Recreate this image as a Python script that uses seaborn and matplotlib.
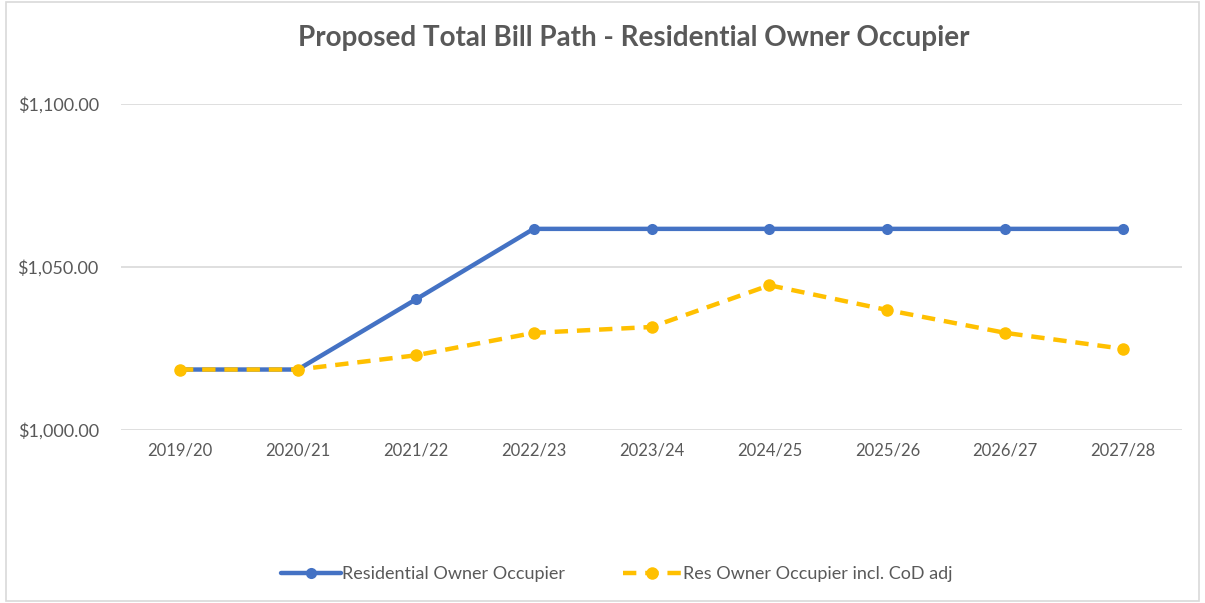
import pandas as pd
import matplotlib.pyplot as plt
import seaborn as sns
from matplotlib.patches import Rectangle

# Data
years = ['2019/20', '2020/21', '2021/22', '2022/23', '2023/24',
         '2024/25', '2025/26', '2026/27', '2027/28']
owner_occupier = [1018.55, 1018.55, 1040.04, 1061.7, 1061.7,
                  1061.7, 1061.7, 1061.7, 1061.7]
owner_occupier_cod = [1018.55, 1018.55, 1022.9, 1029.8, 1031.6,
                      1044.4, 1036.8, 1029.8, 1024.9]
series_names = ['Residential Owner Occupier', 'Res Owner Occupier incl. CoD adj']

BLUE = '#4472C4'
GOLD = '#FFC000'
GREY = '#595959'

sns.set_style('white')
plt.rcParams['font.family'] = ['Lato', 'DejaVu Sans']

df = pd.DataFrame({'year': years, 'a': owner_occupier, 'b': owner_occupier_cod})

fig = plt.figure(figsize=(12.05, 6.03), dpi=100)
ax = fig.add_axes([0.1004, 0.2869, 0.8806, 0.5406])

sns.lineplot(data=df, x='year', y='a', ax=ax, color=BLUE, linewidth=3.2,
             marker='o', markersize=8, markeredgewidth=0, sort=False,
             label=series_names[0], zorder=3)
sns.lineplot(data=df, x='year', y='b', ax=ax, color=GOLD, linewidth=3.2,
             linestyle=(0, (3, 2)), marker='o', markersize=9, markeredgewidth=0,
             sort=False, label=series_names[1], zorder=4)

ax.set_xlim(-0.5, len(years) - 0.5)
ax.set_ylim(1000, 1100)
ax.set_yticks([1000, 1050, 1100])
ax.set_yticklabels([f'${v:,.2f}' for v in [1000, 1050, 1100]])
ax.set_xlabel('')
ax.set_ylabel('')
ax.yaxis.grid(True, color='#D9D9D9', linewidth=1.2)
ax.xaxis.grid(False)
ax.set_axisbelow(True)
for s in ax.spines.values():
    s.set_visible(False)
ax.tick_params(axis='both', length=0, labelcolor=GREY)
ax.tick_params(axis='x', labelsize=12, pad=9)
ax.tick_params(axis='y', labelsize=13, pad=16)

ax.legend(loc='center', bbox_to_anchor=(0.512, 0.048), bbox_transform=fig.transFigure,
          ncol=2, frameon=False, fontsize=13, labelcolor=GREY,
          handlelength=3.3, columnspacing=3.2, handletextpad=0.05)

fig.text(0.526, 0.937, 'Proposed Total Bill Path - Residential Owner Occupier',
         ha='center', va='center', fontsize=20, fontweight='bold', color=GREY)

fig.patches.append(Rectangle((0.005, 0.003), 0.99, 0.994, transform=fig.transFigure,
                             fill=False, edgecolor='#D9D9D9', linewidth=1.2))

fig.savefig('out.png', dpi=100)
